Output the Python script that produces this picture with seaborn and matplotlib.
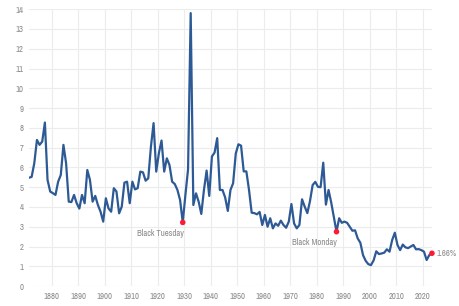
import numpy as np
import pandas as pd
import matplotlib
matplotlib.use("Agg")
import matplotlib.pyplot as plt
import seaborn as sns

# ---- data ----
years = list(range(1871, 2024))
dividend_yield = [
    # 1871-1899
    5.48, 5.52, 6.21, 7.39, 7.14, 7.31, 8.27, 5.37, 4.78, 4.70,
    4.61, 5.28, 5.62, 7.14, 6.21, 4.27, 4.25, 4.61, 4.19, 3.92,
    4.61, 4.19, 5.87, 5.37, 4.27, 4.56, 4.10, 3.76, 3.26,
    # 1900-1929
    4.44, 3.93, 3.76, 4.95, 4.78, 3.68, 4.02, 5.23, 5.28, 4.19,
    5.28, 4.89, 4.95, 5.79, 5.75, 5.33, 5.45, 7.05, 8.24, 5.79,
    6.72, 7.36, 5.79, 6.46, 6.12, 5.28, 5.16, 4.86, 4.35, 3.22,
    # 1930-1959
    4.60, 5.90, 13.80, 4.10, 4.69, 4.27, 3.65, 4.86, 5.84, 4.56,
    6.55, 6.75, 7.48, 4.86, 4.86, 4.48, 3.80, 4.86, 5.20, 6.70,
    7.17, 7.10, 5.80, 5.80, 4.86, 3.71, 3.69, 3.63, 3.75, 3.09,
    # 1960-1989
    3.60, 3.00, 3.43, 2.92, 3.17, 3.05, 3.31, 3.09, 2.95, 3.26,
    4.15, 3.17, 2.92, 3.09, 4.39, 4.02, 3.69, 4.30, 5.11, 5.27,
    5.02, 5.00, 6.24, 4.12, 4.86, 4.23, 3.50, 2.75, 3.43, 3.20,
    # 1990-2023
    3.26, 3.20, 3.00, 2.80, 2.82, 2.41, 2.19, 1.57, 1.28, 1.11,
    1.06, 1.30, 1.76, 1.62, 1.65, 1.69, 1.86, 1.74, 2.33, 2.70,
    2.08, 1.82, 2.10, 1.96, 1.92, 2.00, 2.08, 1.86, 1.87, 1.82,
    1.74, 1.32, 1.57, 1.66,
]
event_years = [1929, 1987]
event_labels = ["Black Tuesday", "Black Monday"]
x_ticks = list(range(1880, 2021, 10))
y_ticks = list(range(0, 15))

assert len(years) == len(dividend_yield)

df = pd.DataFrame({"year": years, "yield": dividend_yield})
df["x"] = df["year"] + 0.4  # annual values plotted mid-year
events = df[df["year"].isin(event_years)].copy()
events["label"] = event_labels
last = df.iloc[[-1]]

# ---- style ----
sns.set_theme(style="white")
plt.rcParams["font.family"] = ["Liberation Sans Narrow", "Archivo Narrow",
                               "Liberation Sans", "DejaVu Sans"]

line_color = "#2d5a94"
grid_color = "#ececec"
text_color = "#8a8a8a"
fs = 6.3

fig = plt.figure(figsize=(4.6, 3.06), dpi=100)
ax = fig.add_axes([0.063, 0.065, 0.876, 0.905])

sns.lineplot(data=df, x="x", y="yield", ax=ax, color=line_color,
             linewidth=1.6, zorder=3)
sns.scatterplot(data=events, x="x", y="yield", ax=ax, color="#ff1a33",
                s=16, edgecolor="none", zorder=4, clip_on=False)
sns.scatterplot(data=last, x="x", y="yield", ax=ax, color="#ff1a33",
                s=16, edgecolor="none", zorder=4, clip_on=False)

for _, r in events.iterrows():
    ax.annotate(r["label"], (r["x"], r["yield"]), xytext=(0.5, -4.5),
                textcoords="offset points", ha="right", va="top",
                fontsize=fs, color=text_color)
r = last.iloc[0]
ax.annotate(f"{r['yield']:.2f}%", (r["x"], r["yield"]), xytext=(3, 0),
            textcoords="offset points", ha="left", va="center",
            fontsize=fs, color=text_color, annotation_clip=False)

ax.set_xlim(df["x"].min(), df["x"].max())
ax.set_ylim(0, 14)
ax.set_xticks(x_ticks)
ax.set_yticks(y_ticks)
ax.set_xticklabels([str(t) for t in x_ticks])
ax.set_yticklabels([str(t) for t in y_ticks])
ax.grid(True, color=grid_color, linewidth=0.8, zorder=0)
ax.set_axisbelow(True)
for s in ax.spines.values():
    s.set_visible(False)
ax.tick_params(axis="both", length=0, labelsize=fs, colors=text_color, pad=4)
ax.set_xlabel("")
ax.set_ylabel("")

fig.savefig("out.png", dpi=100, facecolor="white")
